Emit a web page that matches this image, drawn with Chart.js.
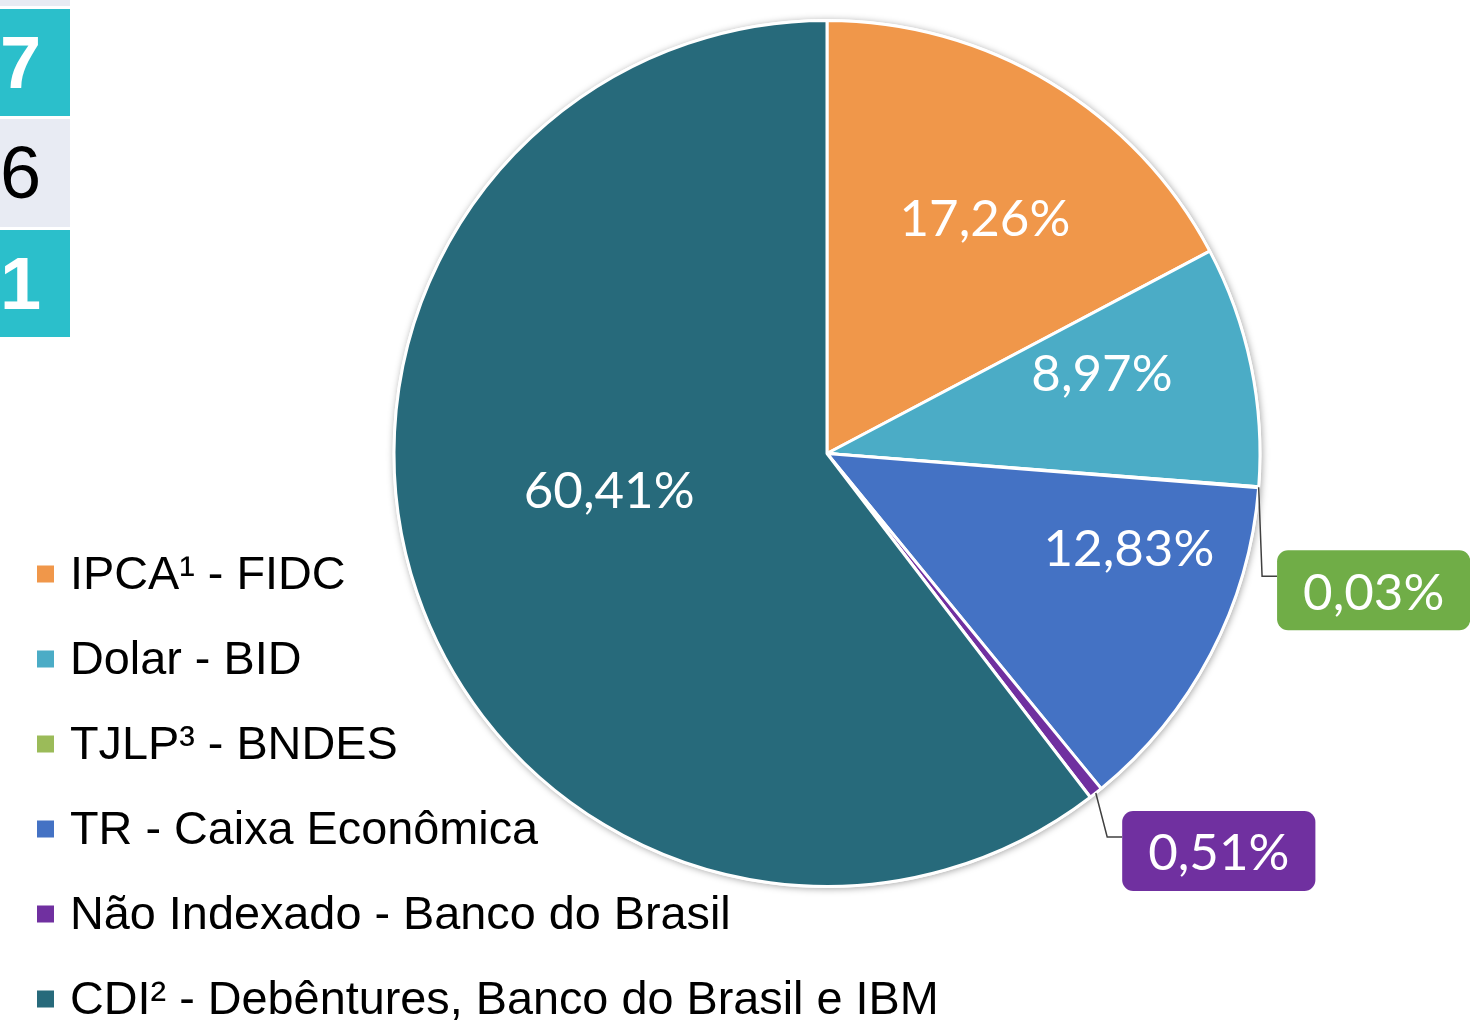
<!DOCTYPE html>
<html>
<head>
<meta charset="utf-8">
<script src="https://cdn.jsdelivr.net/npm/chart.js@4.4.1/dist/chart.umd.min.js"></script>
<style>
  html, body { margin: 0; padding: 0; background: #ffffff; }
  #wrap { position: relative; width: 1470px; height: 1020px; overflow: hidden; }
  canvas { position: absolute; left: 0; top: 0; }
  .cell { position: absolute; left: 0; width: 70px; display: flex; align-items: center;
          font-family: "Liberation Sans", Arial, sans-serif; font-size: 74px; line-height: 1; }
  .teal { background: #2BBFCB; color: #ffffff; font-weight: bold; }
  .grey { background: #E8EBF3; color: #000000; }
</style>
</head>
<body>
<div id="wrap">
  <canvas id="c" width="1470" height="1020"></canvas>
  <div class="cell grey" style="top:0;height:6px;"></div>
  <div class="cell teal" style="top:9px;height:107px;">7</div>
  <div class="cell grey" style="top:119px;height:108px;">6</div>
  <div class="cell teal" style="top:230px;height:107px;">1</div>
</div>
<script>
// ---- data ----
const categories = [
  "IPCA\u00B9 - FIDC",
  "Dolar - BID",
  "TJLP\u00B3 - BNDES",
  "TR - Caixa Econ\u00F4mica",
  "N\u00E3o Indexado - Banco do Brasil",
  "CDI\u00B2 - Deb\u00EAntures, Banco do Brasil e IBM"
];
const shares = [17.26, 8.97, 0.03, 12.83, 0.51, 60.41];
const valueLabels = ["17,26%", "8,97%", "0,03%", "12,83%", "0,51%", "60,41%"];

// ---- styles ----
const sliceColors = ["#F0974A", "#4BACC6", "#9BBB59", "#4472C4", "#7030A0", "#276A7B"];
const calloutColors = [null, null, "#70AD47", null, "#7030A0", null];
// inside labels: angle offset (deg) from slice mid-angle, radius fraction
const insidePlacement = [
  { da: 2.7, f: 0.656 },
  { da: -4.7, f: 0.662 },
  null,
  { da: -10.4, f: 0.73 },
  null,
  { da: 9.3, f: 0.51 }
];
// callouts: box centre offset from the slice's outer edge point (px)
const calloutPlacement = [null, null, { dx: 115, dy: 103 }, null, { dx: 123, dy: 58 }, null];

const labelFont = '51px Lato, "Open Sans", sans-serif';
const legendFont = '46.8px "Liberation Sans", Arial, sans-serif';

const shadowPlugin = {
  id: 'pieShadow',
  beforeDatasetsDraw(chart) {
    const arc = chart.getDatasetMeta(0).data[0];
    if (!arc) return;
    const { x, y, outerRadius } = arc.getProps(['x', 'y', 'outerRadius'], true);
    const ctx = chart.ctx;
    ctx.save();
    ctx.shadowColor = 'rgba(0,0,0,0.35)';
    ctx.shadowBlur = 7;
    ctx.shadowOffsetX = 1;
    ctx.shadowOffsetY = 1;
    ctx.fillStyle = '#ffffff';
    ctx.beginPath();
    ctx.arc(x, y, outerRadius + 1.5, 0, Math.PI * 2);
    ctx.fill();
    ctx.restore();
  }
};

const labelPlugin = {
  id: 'sliceLabels',
  afterDatasetsDraw(chart) {
    const ctx = chart.ctx;
    const meta = chart.getDatasetMeta(0);
    ctx.save();
    ctx.font = labelFont;
    ctx.textAlign = 'center';
    ctx.textBaseline = 'middle';
    meta.data.forEach((arc, i) => {
      const p = arc.getProps(['x', 'y', 'startAngle', 'endAngle', 'outerRadius'], true);
      const mid = (p.startAngle + p.endAngle) / 2;
      const ip = insidePlacement[i];
      if (ip) {
        const a = mid + ip.da * Math.PI / 180;
        const r = p.outerRadius * ip.f;
        ctx.fillStyle = '#ffffff';
        ctx.fillText(valueLabels[i], p.x + r * Math.cos(a), p.y + r * Math.sin(a) + 2);
      }
      const cp = calloutPlacement[i];
      if (cp) {
        const ex = p.x + p.outerRadius * Math.cos(mid);
        const ey = p.y + p.outerRadius * Math.sin(mid);
        const bx = ex + cp.dx, by = ey + cp.dy;
        const tw = ctx.measureText(valueLabels[i]).width;
        const w = tw + 52, h = 80;
        const left = bx - w / 2, top = by - h / 2;
        // leader line
        ctx.strokeStyle = '#404040';
        ctx.lineWidth = 1.5;
        ctx.beginPath();
        ctx.moveTo(ex, ey);
        ctx.lineTo(left - 15, by - 14);
        ctx.lineTo(left, by - 14);
        ctx.stroke();
        // box
        ctx.fillStyle = calloutColors[i];
        ctx.beginPath();
        ctx.roundRect(left, top, w, h, 11);
        ctx.fill();
        ctx.fillStyle = '#ffffff';
        ctx.fillText(valueLabels[i], bx, by + 3);
      }
    });
    ctx.restore();
  }
};

const legendPlugin = {
  id: 'sideLegend',
  afterDraw(chart) {
    const ctx = chart.ctx;
    ctx.save();
    ctx.font = legendFont;
    ctx.textBaseline = 'middle';
    ctx.textAlign = 'left';
    chart.data.labels.forEach((lab, i) => {
      const y = 574 + 85 * i;
      ctx.fillStyle = chart.data.datasets[0].backgroundColor[i];
      ctx.fillRect(37, y - 8.5, 17, 17);
      ctx.fillStyle = '#000000';
      ctx.fillText(lab, 70, y + 2);
    });
    ctx.restore();
  }
};

new Chart(document.getElementById('c'), {
  type: 'pie',
  data: {
    labels: categories,
    datasets: [{
      data: shares,
      backgroundColor: sliceColors,
      borderColor: '#ffffff',
      borderWidth: 3
    }]
  },
  options: {
    responsive: false,
    animation: false,
    layout: { padding: { left: 392, top: 19, right: 208, bottom: 132 } },
    plugins: {
      legend: { display: false },
      tooltip: { enabled: false }
    }
  },
  plugins: [shadowPlugin, labelPlugin, legendPlugin]
});
</script>
</body>
</html>
